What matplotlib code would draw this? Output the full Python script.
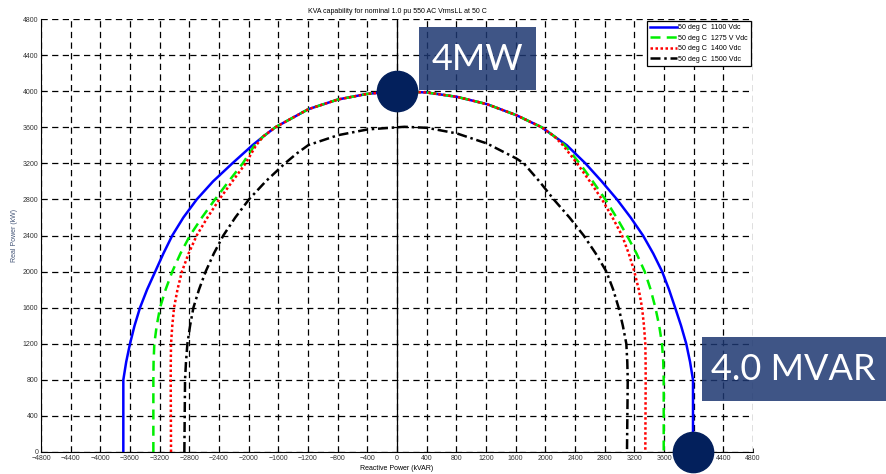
import matplotlib
matplotlib.use("Agg")  # no display in the sandbox
import matplotlib.pyplot as plt  # Importing the pyplot module
from matplotlib.patches import Rectangle  # For the label boxes

plt.rcParams["font.family"] = ["Liberation Sans", "DejaVu Sans"]  # Arial-like text as in the original

# ---- data (kVAR, kW) ----
side_p = [0, 800, 1000, 1200, 1400, 1600, 1800, 2000, 2200, 2400, 2600, 2800, 3000, 3200, 3400]

blue_left = [-3690, -3690, -3651, -3600, -3539, -3465, -3370, -3260, -3150, -3030, -2880, -2700, -2480, -2220, -1950]
blue_right = [3991, 3991, 3951, 3900, 3830, 3750, 3668, 3575, 3455, 3317, 3150, 2966, 2760, 2540, 2290]
green_left = [-3285, -3285, -3282, -3272, -3240, -3195, -3120, -3030, -2920, -2791, -2630, -2454, -2270, -2080, -1920]
green_right = [3596, 3596, 3590, 3573, 3535, 3484, 3420, 3340, 3230, 3101, 2960, 2809, 2640, 2463, 2262]
red_left = [-3047, -3051, -3050, -3047, -3030, -3006, -2960, -2900, -2810, -2701, -2555, -2396, -2220, -2040, -1900]
red_right = [3348, 3353, 3352, 3348, 3330, 3304, 3260, 3200, 3125, 3034, 2905, 2764, 2600, 2427, 2238]

top_q = [-1800, -1640, -1196, -795, -400, 0, 404, 809, 1213, 1609, 1950, 2120]  # shared dome
top_p = [3500, 3600, 3800, 3908, 3970, 4000, 3985, 3937, 3856, 3734, 3600, 3500]

black_p = [0, 800, 1000, 1200, 1400, 1600, 1800, 2000, 2200, 2400, 2600, 2800, 3000, 3200]
black_left = [-2867, -2858, -2845, -2826, -2790, -2745, -2670, -2580, -2470, -2342, -2180, -1996, -1770, -1510]
black_right = [3101, 3111, 3105, 3092, 3045, 2988, 2915, 2823, 2680, 2517, 2325, 2113, 1920, 1709]
black_top_q = [-1350, -1196, -795, -395, 100, 404, 809, 1213, 1609]
black_top_p = [3310, 3402, 3512, 3576, 3605, 3594, 3531, 3420, 3254]

labels = ["50 deg C  1100 Vdc", "50 deg C  1275 V Vdc", "50 deg C  1400 Vdc", "50 deg C  1500 Vdc"]
x_ticks = list(range(-4800, 4801, 400))
y_ticks = list(range(0, 4801, 400))

marker_q = [0, 3991]  # highlighted points
marker_p = [4000, 0]


def trace(left, right, p, tq, tp):  # join left flank, dome and right flank into one path
    q = left + tq + right[::-1]
    pp = p + tp + p[::-1]
    return q, pp


fig = plt.figure(figsize=(8.87, 4.74), dpi=100)  # 887x474 pixels
ax = fig.add_axes([41 / 887, 22 / 474, 712 / 887, 433 / 474])

ax.set_xlim(-4800, 4800)
ax.set_ylim(0, 4800)
ax.set_xticks(x_ticks)
ax.set_yticks(y_ticks)
ax.tick_params(labelsize=5, direction="in", length=3, width=0.6, pad=2, labelcolor="#333333")
ax.grid(True, color="black", linestyle=(0, (5, 3.5)), linewidth=0.9)  # dashed MATLAB-style grid
ax.spines["top"].set_visible(False)
ax.spines["right"].set_visible(False)
ax.axvline(0, color="black", linewidth=0.9)  # the solid line at zero

q, p = trace(blue_left, blue_right, side_p, top_q, top_p)
ax.plot(q, p, color="#0000ff", linewidth=1.8, label=labels[0])
q, p = trace(green_left, green_right, side_p, top_q, top_p)
ax.plot(q, p, color="#00ee00", linewidth=1.8, linestyle=(0, (4, 2.5)), label=labels[1])
q, p = trace(red_left, red_right, side_p, top_q, top_p)
ax.plot(q, p, color="#ff0000", linewidth=1.8, linestyle=(0, (1, 1)), label=labels[2])
q, p = trace(black_left, black_right, black_p, black_top_q, black_top_p)
ax.plot(q, p, color="black", linewidth=1.8, linestyle=(0, (4, 1.5, 1, 1.5)), label=labels[3])

ax.set_title("KVA capability for nominal 1.0 pu 550 AC VrmsLL at 50 C", fontsize=5, pad=4)
ax.set_xlabel("Reactive Power (kVAR)", fontsize=5, labelpad=2)
ax.set_ylabel("Real Power (kW)", fontsize=5, color="#445577")
ax.yaxis.set_label_coords(-0.033, 0.5)

leg = ax.legend(loc="upper right", fontsize=5.1, handlelength=3.8, borderaxespad=0.3,
                fancybox=False, framealpha=1, edgecolor="black", labelspacing=0.5,
                handletextpad=0.2, borderpad=0.45)
leg.get_frame().set_linewidth(0.9)

# navy dots on the two key points, allowed to spill over the axes
ax.plot(marker_q, marker_p, "o", markersize=29, color="#03205c", clip_on=False, zorder=10)

# label boxes on top of the whole figure (pixel positions of the slide overlay)
box_color = "#1d3771"
fig.patches.append(Rectangle((419 / 887, 1 - 90 / 474), 117 / 887, 63 / 474, transform=fig.transFigure,
                             facecolor=box_color, alpha=0.85, edgecolor="none", zorder=20))
fig.patches.append(Rectangle((702 / 887, 1 - 401 / 474), 190 / 887, 64 / 474, transform=fig.transFigure,
                             facecolor=box_color, alpha=0.85, edgecolor="none", zorder=20))
fig.text(477 / 887, 1 - 59 / 474, "4MW", color="white", fontsize=26, family=["Lato", "DejaVu Sans"],
         ha="center", va="center", zorder=21)
fig.text(711 / 887, 1 - 369 / 474, "4.0 MVAR", color="white", fontsize=26, family=["Lato", "DejaVu Sans"],
         ha="left", va="center", zorder=21)

fig.savefig("out.png", dpi=100)  # Saving the chart
